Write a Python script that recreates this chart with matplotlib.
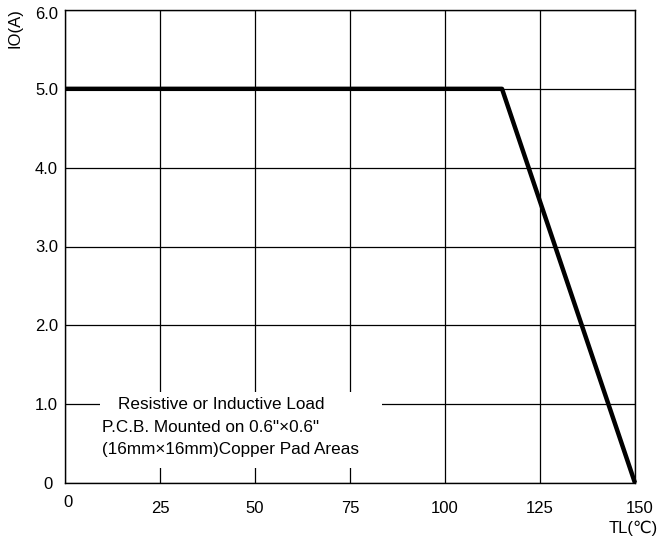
import matplotlib
matplotlib.use("Agg")
import matplotlib.pyplot as plt
from matplotlib.patches import Rectangle
import matplotlib.transforms as mtransforms

plt.rcParams['font.family'] = ['Liberation Sans', 'DejaVu Sans']

temp = [0, 115, 150]
current = [5.0, 5.0, 0.0]
xticks = [0, 25, 50, 75, 100, 125, 150]
yticks = [0, 1, 2, 3, 4, 5, 6]
ytick_labels = ["0", "1.0", "2.0", "3.0", "4.0", "5.0", "6.0"]
note_lines = ["Resistive or Inductive Load",
              "P.C.B. Mounted on 0.6\"\u00d70.6\"",
              "(16mm\u00d716mm)Copper Pad Areas"]

fig = plt.figure(figsize=(6.6, 5.45), dpi=100)
ax = fig.add_axes([65/660, 1-483/545, 570/660, 473/545])
ax.set_xlim(0, 150)
ax.set_ylim(0, 6)
ax.set_xticks(xticks)
ax.set_xticklabels([str(t) for t in xticks])
ax.set_yticks(yticks)
ax.set_yticklabels(ytick_labels)
ax.tick_params(length=0, labelsize=12, colors='black')
ax.tick_params(axis='x', pad=13)
ax.tick_params(axis='y', pad=5)
ax.grid(True, color='black', linewidth=0.9)
ax.set_axisbelow(True)
for s in ax.spines.values():
    s.set_color('black')
    s.set_linewidth(1.0)

xl = ax.get_xticklabels()
xl[0].set_transform(xl[0].get_transform() + mtransforms.ScaledTranslation(3/100, 6/100, fig.dpi_scale_trans))
xl[-1].set_transform(xl[-1].get_transform() + mtransforms.ScaledTranslation(5/100, 0, fig.dpi_scale_trans))
yl = ax.get_yticklabels()
yl[0].set_transform(yl[0].get_transform() + mtransforms.ScaledTranslation(-5/100, 0, fig.dpi_scale_trans))
yl[-1].set_transform(yl[-1].get_transform() + mtransforms.ScaledTranslation(0, -3/100, fig.dpi_scale_trans))

ax.plot(temp, current, color='black', linewidth=3.2, solid_capstyle='butt', zorder=3, clip_on=False)

ax.add_patch(Rectangle((9.2, 0.19), 74.2, 0.96, facecolor='white', edgecolor='none', zorder=2))
fs = 12.3
ax.text(14.0, 0.99, note_lines[0], fontsize=fs, va='center', ha='left', zorder=4)
ax.text(9.7, 0.70, note_lines[1], fontsize=fs, va='center', ha='left', zorder=4)
ax.text(9.7, 0.42, note_lines[2], fontsize=fs, va='center', ha='left', zorder=4)

fig.text(15/660, 1-28/545, "IO(A)", rotation=90, fontsize=12, ha='center', va='center')
fig.text(658/660, 1-528/545, "TL(\u2103)", fontsize=12, ha='right', va='center')

fig.savefig("out.png", dpi=100)
